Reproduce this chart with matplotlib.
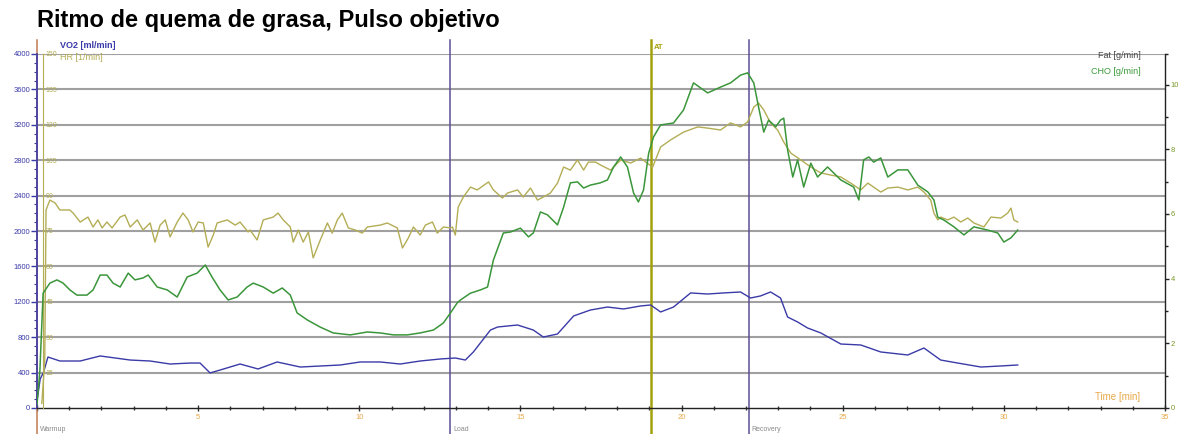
import matplotlib
matplotlib.use("Agg")
import matplotlib.pyplot as plt
from matplotlib.ticker import MultipleLocator, FixedLocator

plt.rcParams['font.family'] = ['Liberation Sans', 'DejaVu Sans']

# ---------------- data ----------------
vo2_t = [0.0, 0.1, 0.2, 0.34, 0.71, 1.34, 1.96, 2.89, 3.51, 4.13, 4.75, 5.06, 5.37, 5.68,
         6.30, 6.86, 7.45, 8.17, 9.41, 10.03, 10.65, 11.27, 11.89, 12.52, 12.98, 13.29,
         13.54, 14.07, 14.29, 14.91, 15.40, 15.71, 16.15, 16.65, 17.17, 17.70, 18.20,
         18.73, 19.04, 19.35, 19.75, 20.28, 20.81, 21.30, 21.83, 22.14, 22.45, 22.76,
         23.07, 23.29, 23.60, 23.91, 24.32, 24.94, 25.56, 26.18, 27.02, 27.52, 28.04,
         28.57, 29.29, 29.91, 30.43]
vo2 = [80, 330, 400, 576, 531, 531, 588, 542, 531, 497, 508, 508, 396, 429,
       497, 441, 520, 463, 486, 520, 520, 497, 531, 554, 565, 542,
       633, 881, 915, 938, 881, 802, 836, 1040, 1107, 1141, 1119,
       1153, 1164, 1085, 1141, 1300, 1288, 1300, 1311, 1243, 1266, 1311,
       1243, 1028, 972, 904, 848, 723, 712, 633, 599, 678, 542,
       508, 463, 475, 486]

hr_t = [0.15, 0.24, 0.28, 0.40, 0.56, 0.71, 1.02, 1.12, 1.34, 1.58, 1.74, 1.89, 2.02, 2.17,
        2.33, 2.58, 2.73, 2.89, 3.11, 3.29, 3.51, 3.66, 3.82, 3.98, 4.13, 4.35, 4.53,
        4.69, 4.84, 5.00, 5.16, 5.31, 5.47, 5.59, 5.90, 6.15, 6.30, 6.55, 6.61, 6.83,
        7.02, 7.33, 7.48, 7.64, 7.86, 7.95, 8.11, 8.26, 8.42, 8.57, 8.79, 9.01, 9.16,
        9.32, 9.47, 9.66, 9.88, 10.09, 10.25, 10.65, 10.87, 11.18, 11.34, 11.52, 11.68,
        11.89, 12.05, 12.27, 12.42, 12.61, 12.83, 12.89, 12.98, 13.07, 13.23, 13.45,
        13.66, 14.01, 14.16, 14.44, 14.60, 14.91, 15.09, 15.31, 15.53, 15.71, 15.93,
        16.15, 16.34, 16.55, 16.77, 16.96, 17.11, 17.33, 17.48, 17.80, 18.11, 18.42,
        18.73, 19.10, 19.35, 19.66, 20.06, 20.50, 20.81, 21.21, 21.52, 21.83, 22.05,
        22.24, 22.39, 22.55, 22.76, 22.98, 23.17, 23.39, 23.70, 24.01, 24.32, 24.63,
        24.94, 25.25, 25.56, 25.78, 25.96, 26.18, 26.40, 26.71, 27.02, 27.33, 27.52,
        27.73, 27.83, 27.95, 28.04, 28.26, 28.45, 28.66, 28.88, 29.07, 29.38, 29.60,
        29.91, 30.12, 30.22, 30.31, 30.43]
hr = [2, 20, 83.9, 88.1, 86.9, 83.9, 83.9, 82.6, 78.8, 80.9, 76.7, 79.7, 76.3, 78.8,
      76.3, 80.9, 81.8, 76.7, 79.7, 75.4, 78.4, 70.3, 77.5, 79.7, 72.5, 78.8, 82.6,
      79.7, 74.6, 78.8, 78.4, 68.2, 73.3, 78.4, 79.7, 77.5, 78.8, 74.6, 75.4, 71.2,
      79.7, 80.9, 82.6, 79.7, 76.7, 70.3, 75.4, 70.3, 74.6, 63.6, 71.2, 78.4, 74.1,
      79.7, 82.6, 76.3, 75.4, 74.1, 76.7, 77.5, 78.4, 76.3, 67.8, 72.0, 76.7,
      73.3, 77.5, 78.8, 74.1, 76.7, 76.3, 76.7, 73.3, 85.2, 89.4, 93.6,
      92.4, 95.8, 92.4, 89.0, 91.1, 92.4, 89.4, 93.2, 88.1, 89.4, 91.1,
      95.3, 102.1, 100.8, 105.1, 100.8, 104.2, 104.2, 103.0, 100.8, 105.1, 103.8,
      105.9, 102.0, 110.6, 113.6, 116.9, 119.1, 118.6, 117.8, 120.8, 119.1, 121.2,
      127.5, 129.2, 126.3, 120.8, 117.8, 112.7, 108.0, 105.1, 102.1, 99.6, 98.7,
      97.9, 95.3, 92.4, 95.3, 93.6, 91.5, 93.2, 93.6, 92.4, 93.6, 91.5,
      88.1, 82.6, 79.7, 80.9, 79.7, 80.9, 78.8, 80.5, 78.4, 76.7, 80.9,
      80.5, 82.6, 84.7, 79.7, 78.8]

cho_t = [0.0, 0.09, 0.19, 0.40, 0.62, 0.81, 1.02, 1.24, 1.55, 1.74, 1.96, 2.17, 2.36, 2.58,
         2.83, 3.04, 3.29, 3.45, 3.73, 4.04, 4.35, 4.66, 4.97, 5.22, 5.43, 5.68, 5.93,
         6.21, 6.52, 6.71, 7.02, 7.33, 7.61, 7.86, 8.07, 8.39, 8.79, 9.19, 9.72, 10.25,
         10.65, 11.06, 11.49, 11.89, 12.30, 12.61, 12.83, 13.04, 13.14, 13.45, 13.76,
         13.98, 14.16, 14.47, 14.69, 15.00, 15.25, 15.40, 15.62, 15.84, 16.15, 16.34,
         16.55, 16.77, 16.96, 17.17, 17.48, 17.70, 17.89, 18.11, 18.32, 18.51, 18.66,
         18.82, 18.98, 19.13, 19.35, 19.75, 20.06, 20.37, 20.81, 21.21, 21.52, 21.83,
         22.05, 22.24, 22.39, 22.55, 22.70, 22.92, 23.07, 23.17, 23.29, 23.45, 23.60,
         23.79, 24.01, 24.22, 24.53, 24.94, 25.34, 25.50, 25.65, 25.81, 25.96, 26.18,
         26.40, 26.71, 27.02, 27.33, 27.64, 27.83, 27.95, 28.14, 28.45, 28.76, 29.07,
         29.50, 29.81, 30.00, 30.22, 30.43]
cho = [0.1, 1.17, 3.55, 3.86, 3.96, 3.86, 3.65, 3.49, 3.49, 3.65, 4.11, 4.11, 3.86, 3.74,
       4.17, 3.96, 4.02, 4.11, 3.74, 3.65, 3.43, 4.05, 4.17, 4.42, 4.05, 3.65, 3.34,
       3.43, 3.74, 3.86, 3.74, 3.55, 3.71, 3.49, 2.94, 2.72, 2.50, 2.32, 2.26, 2.35,
       2.32, 2.26, 2.26, 2.32, 2.41, 2.63, 2.94, 3.25, 3.34, 3.55, 3.65,
       3.74, 4.57, 5.41, 5.44, 5.56, 5.29, 5.41, 6.06, 5.97, 5.66, 6.21,
       6.96, 6.99, 6.80, 6.89, 6.96, 7.05, 7.45, 7.76, 7.45, 6.65, 6.37,
       6.74, 7.88, 8.38, 8.75, 8.81, 9.21, 10.05, 9.74, 9.92, 10.05, 10.29,
       10.36, 10.05, 9.30, 8.53, 8.90, 8.69, 8.90, 8.96, 7.98, 7.14, 7.67,
       6.83, 7.57, 7.14, 7.45, 7.05, 6.83, 6.43, 7.67, 7.76, 7.60, 7.73,
       7.14, 7.36, 7.36, 6.89, 6.68, 6.43, 5.90, 5.81, 5.60, 5.35, 5.60,
       5.50, 5.41, 5.13, 5.26, 5.50]

phase_t = [0.0, 12.83, 22.1]
phase_names = ["Warmup", "Load", "Recovery"]
at_t = 19.04

title = "Ritmo de quema de grasa, Pulso objetivo"

# ---------------- colours ----------------
C_VO2 = '#3a3aa8'
C_HR = '#b3ad55'
C_CHO = '#3b963b'
C_PHASE = '#5e4f96'
C_AT = '#a3a10c'
C_GRID = '#a0a0a0'
C_TIME = '#e8a848'

# ---------------- figure ----------------
W, H = 1183, 434
fig = plt.figure(figsize=(W / 100, H / 100), dpi=100)
x0, x1, y0, y1 = 37, 1165, 408, 54
ax = fig.add_axes([x0 / W, (H - y0) / H, (x1 - x0) / W, (y0 - y1) / H])
ax.set_xlim(0, 35)
ax.set_ylim(0, 4000)

fig.text(37 / W, 1 - 20 / H, title, fontsize=17, fontweight='bold', va='center', ha='left')

# grid
for v in range(400, 4001, 400):
    ax.axhline(v, color=C_GRID, lw=1.5, zorder=1)

for s in ['top', 'right']:
    ax.spines[s].set_visible(False)
ax.spines['left'].set_color(C_VO2)
ax.spines['left'].set_linewidth(1.2)
ax.spines['left'].set_bounds(0, 4000)
ax.spines['bottom'].set_color('#222222')
ax.spines['bottom'].set_linewidth(1.0)

ax.yaxis.set_major_locator(MultipleLocator(400))
ax.yaxis.set_minor_locator(MultipleLocator(100))
ax.tick_params(axis='y', which='major', colors=C_VO2, labelsize=5.5, length=4, width=1, pad=1)
ax.tick_params(axis='y', which='minor', colors=C_VO2, length=2, width=0.8)
ax.set_yticks(range(0, 4001, 400))
ax.set_yticklabels([str(v) for v in range(0, 4001, 400)])

ax.xaxis.set_major_locator(MultipleLocator(5))
ax.xaxis.set_minor_locator(MultipleLocator(1))
ax.set_xticks(range(0, 36, 5))
ax.set_xticklabels(['', '5', '10', '15', '20', '25', '30', '35'])
ax.tick_params(axis='x', which='major', colors='#333333', labelcolor=C_TIME, labelsize=5.5,
               length=4, width=1, direction='inout', pad=2)
ax.tick_params(axis='x', which='minor', colors='#333333', length=2.5, width=1, direction='inout')

# HR axis (left, inner)
ax2 = ax.twinx()
ax2.set_ylim(0, 150)
ax2.spines['right'].set_position(('axes', 0.005))
ax2.spines['right'].set_color(C_HR)
ax2.spines['right'].set_bounds(0, 150)
for s in ['top', 'left', 'bottom']:
    ax2.spines[s].set_visible(False)
ax2.yaxis.set_ticks_position('right')
ax2.set_yticks(range(15, 151, 15))
ax2.tick_params(axis='y', colors=C_HR, labelsize=5, length=1.5, pad=0.5)

# CHO / Fat axis (right)
ax3 = ax.twinx()
ax3.set_ylim(0, 354 / 32.35)
for s in ['top', 'left', 'bottom']:
    ax3.spines[s].set_visible(False)
ax3.spines['right'].set_color('#222222')
ax3.spines['right'].set_linewidth(1.0)
ax3.set_yticks([0, 2, 4, 6, 8, 10])
ax3.yaxis.set_minor_locator(FixedLocator([1, 3, 5, 7, 9, 10.94]))
ax3.tick_params(axis='y', which='major', colors='#222222', labelcolor='#7a9a2a', labelsize=5.5,
                length=3, width=1, pad=1)
ax3.tick_params(axis='y', which='minor', colors='#222222', length=2, width=1)

# phase / AT lines
for t, name in zip(phase_t, phase_names):
    col = '#c07a50' if t == 0 else C_PHASE
    ax.axvline(t, ymin=-0.073, ymax=1.04, color=col, lw=1.1, clip_on=False, zorder=2)
    ax.text(t + 0.08, -0.062, name, transform=ax.get_xaxis_transform(), fontsize=5,
            color='#8a8a8a', va='center', ha='left')
ax.axvline(at_t, ymin=-0.073, ymax=1.04, color=C_AT, lw=1.8, clip_on=False, zorder=2)
ax.text(at_t + 0.1, 1.018, "AT", transform=ax.get_xaxis_transform(), fontsize=5.5,
        color=C_AT, fontweight='bold', va='center', ha='left')

# series
ax.plot(vo2_t, vo2, color=C_VO2, lw=1.0, zorder=4)
ax2.plot(hr_t, hr, color=C_HR, lw=1.0, zorder=4)
ax3.plot(cho_t, cho, color=C_CHO, lw=1.1, zorder=5)

# legend texts
ax.text(60 / W, 1 - 46 / H, "VO2 [ml/min]", transform=fig.transFigure, color=C_VO2,
        fontsize=6.5, fontweight='bold', va='center', ha='left')
ax.text(60 / W, 1 - 58 / H, "HR [1/min]", transform=fig.transFigure, color=C_HR,
        fontsize=6.5, va='center', ha='left')
ax.text(1141 / W, 1 - 56 / H, "Fat [g/min]", transform=fig.transFigure, color='#444444',
        fontsize=6.5, va='center', ha='right')
ax.text(1141 / W, 1 - 71 / H, "CHO [g/min]", transform=fig.transFigure, color='#3a9a3a',
        fontsize=6.5, va='center', ha='right')
ax.text(1140 / W, 1 - 397 / H, "Time [min]", transform=fig.transFigure, color=C_TIME,
        fontsize=7, va='center', ha='right')

fig.savefig("out.png", dpi=100)
